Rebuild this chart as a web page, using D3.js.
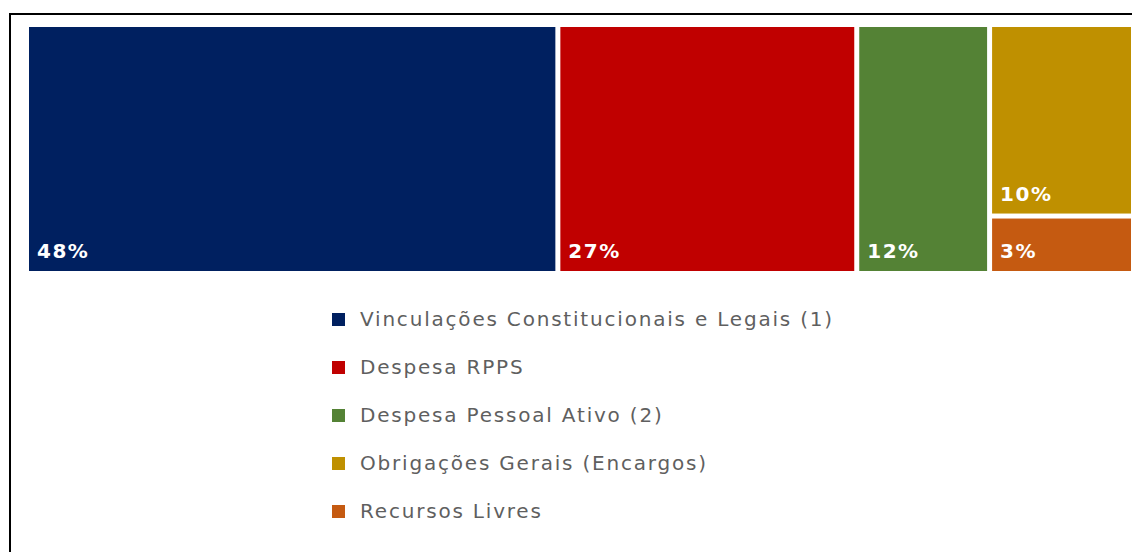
<!DOCTYPE html>
<html lang="pt">
<head>
	<meta charset="UTF-8">
	<script src="https://d3js.org/d3.v7.min.js"></script>
	<title>Treemap</title>
	<style type="text/css">
		body { margin: 0; background: #fff; }
		.cell-label {
			font-family: "DejaVu Sans", sans-serif;
			font-weight: bold;
			font-size: 20px;
			fill: #fff;
			letter-spacing: 1.5px;
		}
		.legend-text {
			font-family: "DejaVu Sans", sans-serif;
			font-size: 20px;
			fill: #5f5f5f;
			letter-spacing: 1.8px;
		}
	</style>
</head>
<body onload="main()">
	<svg width="1132" height="552"></svg>
</body>
<script>
	var categories = [
		"Vinculações Constitucionais e Legais (1)",
		"Despesa RPPS",
		"Despesa Pessoal Ativo (2)",
		"Obrigações Gerais (Encargos)",
		"Recursos Livres"
	];
	var values = [48, 27, 12, 10, 3];
	var colors = ["#002060", "#c00000", "#548235", "#bf9000", "#c55a11"];

	function main() {
		var svg = d3.select("svg");

		// moldura
		svg.append("path")
			.attr("d", "M10,552 V14 H1132")
			.attr("fill", "none")
			.attr("stroke", "#000")
			.attr("stroke-width", 2);

		var color = d3.scaleOrdinal().domain(categories).range(colors);

		var data = categories.map(function(c, i) { return { name: c, value: values[i] }; });

		var root = d3.hierarchy({ children: data })
			.sum(function(d) { return d.value; });

		d3.treemap()
			.tile(d3.treemapSquarify.ratio(1))
			.size([1102, 244])
			.paddingInner(5)(root);

		var g = svg.append("g").attr("transform", "translate(29,27)");

		var cell = g.selectAll(".cell")
			.data(root.leaves())
			.enter().append("g")
			.attr("class", "cell")
			.attr("transform", function(d) { return "translate(" + d.x0 + "," + d.y0 + ")"; });

		cell.append("rect")
			.attr("width", function(d) { return d.x1 - d.x0; })
			.attr("height", function(d) { return d.y1 - d.y0; })
			.attr("fill", function(d) { return color(d.data.name); });

		cell.append("text")
			.attr("class", "cell-label")
			.attr("x", 8)
			.attr("y", function(d) { return d.y1 - d.y0 - 13; })
			.text(function(d) { return d.data.value + "%"; });

		// legenda
		var legend = svg.append("g").attr("transform", "translate(332,319)");

		var item = legend.selectAll(".item")
			.data(categories)
			.enter().append("g")
			.attr("class", "item")
			.attr("transform", function(d, i) { return "translate(0," + (i * 48) + ")"; });

		item.append("rect")
			.attr("x", 0)
			.attr("y", -6)
			.attr("width", 13)
			.attr("height", 13)
			.attr("fill", function(d) { return color(d); });

		item.append("text")
			.attr("class", "legend-text")
			.attr("x", 28)
			.attr("y", 7)
			.text(function(d) { return d; });
	}
</script>
</html>
